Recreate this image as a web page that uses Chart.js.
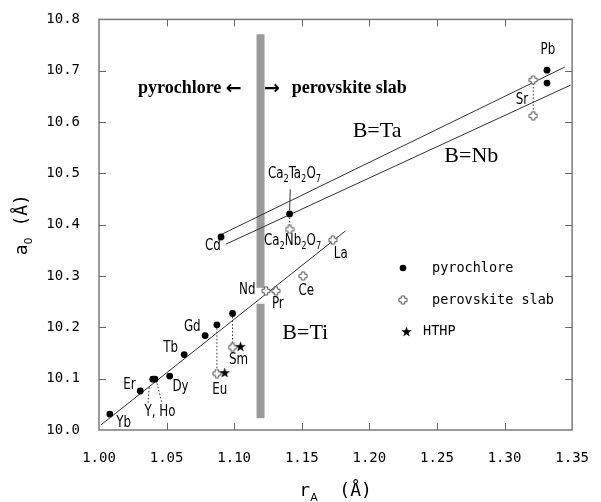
<!DOCTYPE html>
<html><head><meta charset="utf-8">
<script src="https://cdn.jsdelivr.net/npm/chart.js@4.4.1/dist/chart.umd.min.js"></script>
<style>html,body{margin:0;padding:0;background:#fff}</style>
</head><body>
<canvas id="c" width="601" height="502"></canvas>
<script>
// ---------------- DATA ----------------
const xTickLabels = ['1.00','1.05','1.10','1.15','1.20','1.25','1.30','1.35'];
const yTickLabels = ['10.0','10.1','10.2','10.3','10.4','10.5','10.6','10.7','10.8'];

const pyroNames = ['Yb','Er','Y','Ho','Dy','Tb','Gd','Eu','Sm','Cd','Ca2Ta2O7','Pb','Pb'];
const pyroX = [1.008, 1.0305, 1.0398, 1.0414, 1.0523, 1.063, 1.0785, 1.0872, 1.0988, 1.0903, 1.141, 1.3314, 1.3314];
const pyroY = [10.031, 10.076, 10.099, 10.099, 10.105, 10.147, 10.184, 10.205, 10.227, 10.376, 10.421, 10.701, 10.676];

const perovNames = ['Eu','Sm','Nd','Pr','Ce','La','Ca2Nb2O7','Sr','Sr'];
const perovX = [1.0872, 1.0988, 1.1235, 1.1308, 1.151, 1.173, 1.141, 1.3212, 1.3212];
const perovY = [10.110, 10.161, 10.271, 10.271, 10.300, 10.370, 10.391, 10.682, 10.612];

const hthpNames = ['Eu','Sm'];
const hthpX = [1.093, 1.1047];
const hthpY = [10.112, 10.163];

const taLineX = [1.089, 1.3445], taLineY = [10.379, 10.707];
const nbLineX = [1.0938, 1.3488], nbLineY = [10.362, 10.672];
const tiLineX = [1.0015, 1.1824], tiLineY = [10.010, 10.388];

// ---------------- helpers ----------------
const pts = (xs, ys) => xs.map((x, i) => ({x, y: ys[i]}));

function crossImg(s) {
  const c = document.createElement('canvas'); c.width = c.height = s;
  const g = c.getContext('2d'); const m = s / 2, h = s / 2 - 1, w = s * 0.17;
  g.beginPath();
  g.moveTo(m - w, m - h); g.lineTo(m + w, m - h); g.lineTo(m + w, m - w); g.lineTo(m + h, m - w);
  g.lineTo(m + h, m + w); g.lineTo(m + w, m + w); g.lineTo(m + w, m + h); g.lineTo(m - w, m + h);
  g.lineTo(m - w, m + w); g.lineTo(m - h, m + w); g.lineTo(m - h, m - w); g.lineTo(m - w, m - w);
  g.closePath(); g.fillStyle = '#fff'; g.fill(); g.strokeStyle = '#555'; g.lineWidth = 1; g.stroke();
  return c;
}
function starImg(s) {
  const c = document.createElement('canvas'); c.width = c.height = s;
  const g = c.getContext('2d'); const m = s / 2, R = s / 2, r = R * 0.4;
  g.beginPath();
  for (let i = 0; i < 10; i++) {
    const a = -Math.PI / 2 + i * Math.PI / 5, rr = i % 2 ? r : R;
    g.lineTo(m + rr * Math.cos(a), m + 0.5 + rr * Math.sin(a));
  }
  g.closePath(); g.fillStyle = '#000'; g.fill();
  return c;
}
const CROSS = crossImg(10), STAR = starImg(11);

// text annotations (data-space anchor, centred)
const LABEL_FONT = '15px "DejaVu Sans Condensed", "DejaVu Sans", sans-serif';
const SUB_FONT = '10.5px "DejaVu Sans Condensed", "DejaVu Sans", sans-serif';
const pointLabels = [
  {t:'Pb', x:1.3321, y:10.740}, {t:'Sr', x:1.3128, y:10.643},
  {t:'Ca_2Ta_2O_7', x:1.1446, y:10.498}, {t:'Ca_2Nb_2O_7', x:1.1432, y:10.368},
  {t:'Cd', x:1.0843, y:10.358}, {t:'La', x:1.1788, y:10.343},
  {t:'Nd', x:1.1097, y:10.273}, {t:'Pr', x:1.1323, y:10.246}, {t:'Ce', x:1.1533, y:10.271},
  {t:'Gd', x:1.069, y:10.200}, {t:'Tb', x:1.053, y:10.159}, {t:'Er', x:1.0225, y:10.087},
  {t:'Dy', x:1.0603, y:10.083}, {t:'Y, Ho', x:1.0451, y:10.035}, {t:'Yb', x:1.0182, y:10.0136},
  {t:'Eu', x:1.0894, y:10.0775}, {t:'Sm', x:1.1032, y:10.1357}
];
const serifLabels = [
  {t:'B=Ta', x:1.2057, y:10.5814}, {t:'B=Nb', x:1.2754, y:10.533}, {t:'B=Ti', x:1.1526, y:10.188}
];

function drawSubText(ctx, spec, cx, cy, font, subFont, subDy, sx) {
  const parts = []; let i = 0;
  while (i < spec.length) {
    if (spec[i] === '_') { parts.push({s: spec[i + 1], sub: true}); i += 2; }
    else { let j = i; while (j < spec.length && spec[j] !== '_') j++;
      parts.push({s: spec.slice(i, j), sub: false}); i = j; }
  }
  let W = 0;
  parts.forEach(p => { ctx.font = p.sub ? subFont : font; p.w = ctx.measureText(p.s).width; W += p.w; });
  ctx.save(); ctx.translate(cx, cy); ctx.scale(sx, 1);
  let x = -W / 2;
  ctx.textAlign = 'left'; ctx.textBaseline = 'middle';
  parts.forEach(p => { ctx.font = p.sub ? subFont : font; ctx.fillText(p.s, x, p.sub ? subDy : 0); x += p.w; });
  ctx.restore();
}

const annot = {
  id: 'annot',
  beforeDatasetsDraw(chart) {
    const {ctx, scales: {x, y}} = chart;
    ctx.save(); ctx.fillStyle = '#9a9a9a';
    const bx = x.getPixelForValue(1.1195);
    const segs = [[10.771, 10.277], [10.246, 10.023]];
    segs.forEach(([a, b]) => { const ya = y.getPixelForValue(a), yb = y.getPixelForValue(b); ctx.fillRect(bx - 4, ya, 8, yb - ya); });
    ctx.restore();
  },
  afterDatasetsDraw(chart) {
    const {ctx, scales: {x, y}} = chart;
    ctx.save();
    ctx.fillStyle = '#000';
    pointLabels.forEach(l => drawSubText(ctx, l.t, x.getPixelForValue(l.x), y.getPixelForValue(l.y), LABEL_FONT, SUB_FONT, 5, 0.88));
    ctx.font = '22px "Liberation Serif", "Times New Roman", serif';
    ctx.textAlign = 'center'; ctx.textBaseline = 'middle';
    serifLabels.forEach(l => ctx.fillText(l.t, x.getPixelForValue(l.x), y.getPixelForValue(l.y)));
    const ty = y.getPixelForValue(10.6647);
    ctx.font = 'bold 18px "Liberation Serif", "Times New Roman", serif';
    ctx.textAlign = 'right';
    ctx.fillText('pyrochlore', x.getPixelForValue(1.0905), ty);
    ctx.textAlign = 'left';
    ctx.fillText('perovskite slab', x.getPixelForValue(1.1425), ty);
    ctx.font = 'bold 19px "DejaVu Sans", sans-serif';
    ctx.textAlign = 'center';
    ctx.fillText('\u2190', x.getPixelForValue(1.0996), ty);
    ctx.fillText('\u2192', x.getPixelForValue(1.1279), ty);
    // legend
    const ds = chart.data.datasets;
    ctx.font = '13.5px "DejaVu Sans Mono", monospace'; ctx.textAlign = 'left'; ctx.textBaseline = 'middle';
    ctx.beginPath(); ctx.arc(403, 268, 3.3, 0, Math.PI * 2); ctx.fillStyle = '#000'; ctx.fill();
    ctx.fillText(ds[0].label, 432, 268);
    ctx.drawImage(CROSS, 398, 295);
    ctx.fillText(ds[1].label, 432, 300);
    ctx.drawImage(STAR, 401, 326);
    ctx.fillText(ds[2].label, 423, 331);
    ctx.restore();
  },
  afterDraw(chart) {
    const {ctx, chartArea: ca, scales: {x, y}} = chart;
    ctx.save();
    ctx.strokeStyle = '#7a7a7a'; ctx.lineWidth = 1.5;
    ctx.strokeRect(ca.left, ca.top, ca.right - ca.left, ca.bottom - ca.top);
    ctx.lineWidth = 1; ctx.strokeStyle = '#666';
    ctx.beginPath();
    x.ticks.forEach(t => {
      const px = Math.round(x.getPixelForValue(t.value)) + 0.5;
      if (px < ca.left + 2 || px > ca.right - 2) return;
      ctx.moveTo(px, ca.bottom); ctx.lineTo(px, ca.bottom - 7);
      ctx.moveTo(px, ca.top); ctx.lineTo(px, ca.top + 7);
    });
    y.ticks.forEach(t => {
      const py = Math.round(y.getPixelForValue(t.value)) + 0.5;
      if (py < ca.top + 2 || py > ca.bottom - 2) return;
      ctx.moveTo(ca.left, py); ctx.lineTo(ca.left + 7, py);
      ctx.moveTo(ca.right, py); ctx.lineTo(ca.right - 7, py);
    });
    ctx.stroke();
    // axis titles
    ctx.fillStyle = '#000'; ctx.textBaseline = 'alphabetic'; ctx.textAlign = 'left';
    const tf = '18px "DejaVu Sans Mono", monospace', sf = '11px "DejaVu Sans", sans-serif';
    const cx = (ca.left + ca.right) / 2;
    let parts = [{s:'r', f:tf, d:0}, {s:'A', f:sf, d:5}, {s:'  (\u00c5)', f:tf, d:0}];
    let W = 0; parts.forEach(p => { ctx.font = p.f; p.w = ctx.measureText(p.s).width; W += p.w; });
    let xx = cx - W / 2;
    parts.forEach(p => { ctx.font = p.f; ctx.fillText(p.s, xx, 496 + p.d); xx += p.w; });
    ctx.translate(27, (ca.top + ca.bottom) / 2); ctx.rotate(-Math.PI / 2);
    parts = [{s:'a', f:tf, d:0}, {s:'0', f:sf, d:5}, {s:' (\u00c5)', f:tf, d:0}];
    W = 0; parts.forEach(p => { ctx.font = p.f; p.w = ctx.measureText(p.s).width; W += p.w; });
    xx = -W / 2;
    parts.forEach(p => { ctx.font = p.f; ctx.fillText(p.s, xx, p.d); xx += p.w; });
    ctx.restore();
  }
};

const lineDs = (xs, ys, dash, w) => ({
  type: 'scatter', data: pts(xs, ys), showLine: true, pointRadius: 0, borderColor: '#333',
  borderWidth: w || 1, borderDash: dash || [], fill: false, label: '', order: 5
});

const tickFont = {family: '"DejaVu Sans Mono", monospace', size: 14};

new Chart(document.getElementById('c'), {
  type: 'scatter',
  data: {
    datasets: [
      {label: 'pyrochlore', data: pts(pyroX, pyroY), pointStyle: 'circle', pointRadius: 3.4,
       backgroundColor: '#000', borderColor: '#000', borderWidth: 0, order: 1},
      {label: 'perovskite slab', data: pts(perovX, perovY), pointStyle: CROSS, pointRadius: 5, order: 2},
      {label: 'HTHP', data: pts(hthpX, hthpY), pointStyle: STAR, pointRadius: 5, order: 0},
      lineDs(taLineX, taLineY), lineDs(nbLineX, nbLineY), lineDs(tiLineX, tiLineY),
      lineDs([pyroX[7], perovX[0]], [pyroY[7], perovY[0]], [1.5, 2]),
      lineDs([pyroX[8], perovX[1]], [pyroY[8], perovY[1]], [1.5, 2]),
      lineDs([perovX[7], perovX[8]], [perovY[7], perovY[8]], [1.5, 2]),
      lineDs([pyroX[10], perovX[6]], [pyroY[10], perovY[6]], [1.5, 2]),
      lineDs([1.0371, 1.0363], [10.083, 10.052], [1.5, 2]),
      lineDs([1.0429, 1.0465], [10.091, 10.052], [1.5, 2]),
      lineDs([1.141, 1.1415], [10.428, 10.469])
    ]
  },
  options: {
    responsive: false, animation: false,
    layout: {padding: {left: 0, right: 19, top: 17, bottom: 0}},
    plugins: {legend: {display: false}, tooltip: {enabled: false}},
    scales: {
      x: {
        type: 'linear', min: 1.0, max: 1.35,
        afterFit(s) { s.height = 72; },
        grid: {display: false}, border: {display: false},
        ticks: {stepSize: 0.05, padding: 12, color: '#000', font: tickFont, maxRotation: 0, autoSkip: false,
          callback: (v, i) => xTickLabels[i]}
      },
      y: {
        type: 'linear', min: 10.0, max: 10.8,
        afterFit(s) { s.width = 99; },
        grid: {display: false}, border: {display: false},
        ticks: {stepSize: 0.1, padding: 11, color: '#000', font: tickFont, autoSkip: false,
          callback: (v, i) => yTickLabels[i]}
      }
    }
  },
  plugins: [annot]
});
</script>
</body></html>
